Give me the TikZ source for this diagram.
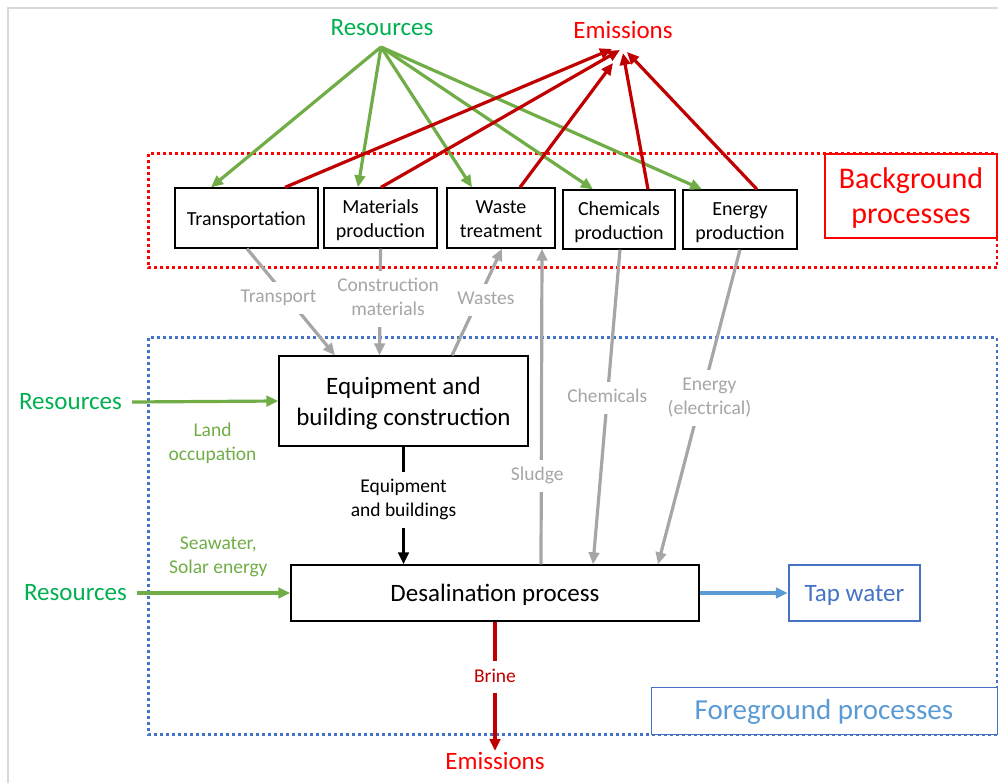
\documentclass[tikz,border=0pt]{standalone}
\usepackage{fontspec}
\setmainfont{Carlito}
\usetikzlibrary{arrows.meta}

\definecolor{resgreen}{HTML}{00B050}
\definecolor{flowgreen}{HTML}{70AD47}
\definecolor{lossred}{HTML}{C00000}
\definecolor{emred}{HTML}{FF0000}
\definecolor{flowgray}{HTML}{A6A6A6}
\definecolor{fgblue}{HTML}{4472C4}
\definecolor{waterblue}{HTML}{5B9BD5}
\definecolor{framegray}{HTML}{D9D9D9}

\begin{document}
\begin{tikzpicture}[x=1pt,y=-1pt,
		proc/.style={draw=black,line width=1.3pt,fill=white,inner sep=0pt,align=center,text height=18pt,text depth=2pt,font=\fontsize{20}{24}\selectfont},
		bigproc/.style={proc,text height=20pt,text depth=3pt,font=\fontsize{25}{31}\selectfont},
		flow/.style={line width=3.2pt,-{Triangle[length=12pt,width=10.5pt]}},
		flowlabel/.style={fill=white,inner xsep=4pt,inner ysep=6pt,text height=15pt,text depth=5pt,align=center,font=\fontsize{19.5}{24}\selectfont},
		twolines/.style={text height=39pt},
		bigtext/.style={font=\fontsize{25}{31}\selectfont}
	]
		\useasboundingbox (0,0) rectangle (998,783);
		\draw[framegray,line width=1.5pt] (8,783) -- (8,8) -- (998,8);

		\draw[emred,line width=3pt,dash pattern=on 3pt off 3pt] (148,154) rectangle (997,268);
		\draw[fgblue,line width=3pt,dash pattern=on 3pt off 3pt] (148,338) rectangle (997,734);

		\node[draw=emred,line width=1.3pt,fill=white,text=emred,minimum width=172pt,minimum height=84pt,inner sep=0pt,align=center,text height=58pt,text depth=3pt,font=\fontsize{30}{35}\selectfont] (bg title) at (911,196) {Background\\processes};
		\node[draw=fgblue,line width=1pt,fill=white,text=waterblue,minimum width=346pt,minimum height=47pt,inner sep=0pt,text height=22pt,text depth=4pt,font=\fontsize{29}{34}\selectfont] (fg title) at (824,710.5) {Foreground processes};

		\node[proc,minimum width=143pt,minimum height=60pt] (trans) at (246.5,218) {Transportation};
		\node[proc,text height=42pt,minimum width=113pt,minimum height=60pt] (mat) at (380.5,218) {Materials\\production};
		\node[proc,text height=42pt,minimum width=108pt,minimum height=60pt] (waste) at (501,218) {Waste\\treatment};
		\node[proc,text height=42pt,minimum width=112pt,minimum height=59pt] (chem) at (619,219.5) {Chemicals\\production};
		\node[proc,text height=42pt,minimum width=114pt,minimum height=59pt] (energy) at (740,219.5) {Energy\\production};

		\node[bigproc,text height=51pt,minimum width=249pt,minimum height=90pt] (equip) at (403.5,401) {Equipment and\\building construction};
		\node[bigproc,minimum width=408pt,minimum height=56pt] (desal) at (495,593) {Desalination process};
		\node[bigproc,draw=fgblue,line width=2.5pt,text=fgblue,fill=none,minimum width=131pt,minimum height=56pt] (tap) at (854.5,593) {Tap water};

		\node[bigtext,text=resgreen] (res top) at (382,28) {Resources};
		\node[bigtext,text=emred] (em top) at (623,30) {Emissions};
		\node[bigtext,text=resgreen,inner sep=10pt] (res equip) at (70.5,402) {Resources};
		\node[bigtext,text=resgreen,inner sep=10pt] (res desal) at (75.5,593) {Resources};
		\node[bigtext,text=emred,inner sep=1pt,anchor=north] (em bot) at (495,751) {Emissions};
		\coordinate (res apex) at (381,47);
		\coordinate (em apex) at (619,50);

		\foreach \target/\dx in {trans/-35.5,mat/-22.5,waste/-29,chem/-26,energy/-38}
			\draw[flow,flowgreen] (res apex) -- ([xshift=\dx pt]\target.north);
		\foreach \source/\dx/\ex/\ey in {trans/38.5/-7/-1,mat/0.5/1/0,waste/19/-6/13,chem/29/4/3,energy/17/8/2}
			\draw[flow,lossred] ([xshift=\dx pt]\source.north) -- ([shift={(\ex,\ey)}]em apex);

		\draw[flow,flowgray] ([xshift=0.5pt]trans.south) -- node[flowlabel,pos=0.46,xshift=-9pt] (transport lbl) {Transport} ([xshift=-68.5pt]equip.north);
		\draw[flow,flowgray] (mat.south) -- node[flowlabel,twolines,pos=0.47,xshift=8pt] (constr lbl) {Construction\\materials} ([xshift=-24pt]equip.north);
		\draw[flow,flowgray] ([xshift=48.5pt]equip.north) -- node[flowlabel,pos=0.52,xshift=8pt] (wastes lbl) {Wastes} ([xshift=1pt]waste.south);
		\draw[flow,flowgray] ([xshift=46pt]desal.north) -- node[flowlabel,pos=0.28,xshift=-4pt] (sludge lbl) {Sludge} ([xshift=41pt]waste.south);
		\draw[flow,flowgray] ([xshift=1pt]chem.south) -- node[flowlabel,pos=0.47] (chem lbl) {Chemicals} ([xshift=98pt]desal.north);
		\draw[flow,flowgray] (energy.south) -- node[flowlabel,twolines,pos=0.47,xshift=8pt] (energy lbl) {Energy\\(electrical)} ([xshift=163pt]desal.north);

		\draw[flow,black] (equip.south) -- node[flowlabel,twolines,pos=0.45] (equip lbl) {Equipment\\and buildings} ([xshift=-91.5pt]desal.north);
		\draw[flow,flowgreen] (res equip.east) -- node[flowlabel,twolines,fill=none,pos=0.55,yshift=-42pt] (land lbl) {Land\\occupation} (equip.west);
		\draw[flow,flowgreen] (res desal.east) -- node[flowlabel,twolines,fill=none,pos=0.53,yshift=37pt] (sea lbl) {Seawater,\\Solar energy} (desal.west);
		\draw[flow,waterblue] (desal.east) -- (tap.west);
		\draw[flow,lossred] (desal.south) -- node[flowlabel,pos=0.43] (brine lbl) {Brine} (em bot.north);
\end{tikzpicture}
\end{document}
